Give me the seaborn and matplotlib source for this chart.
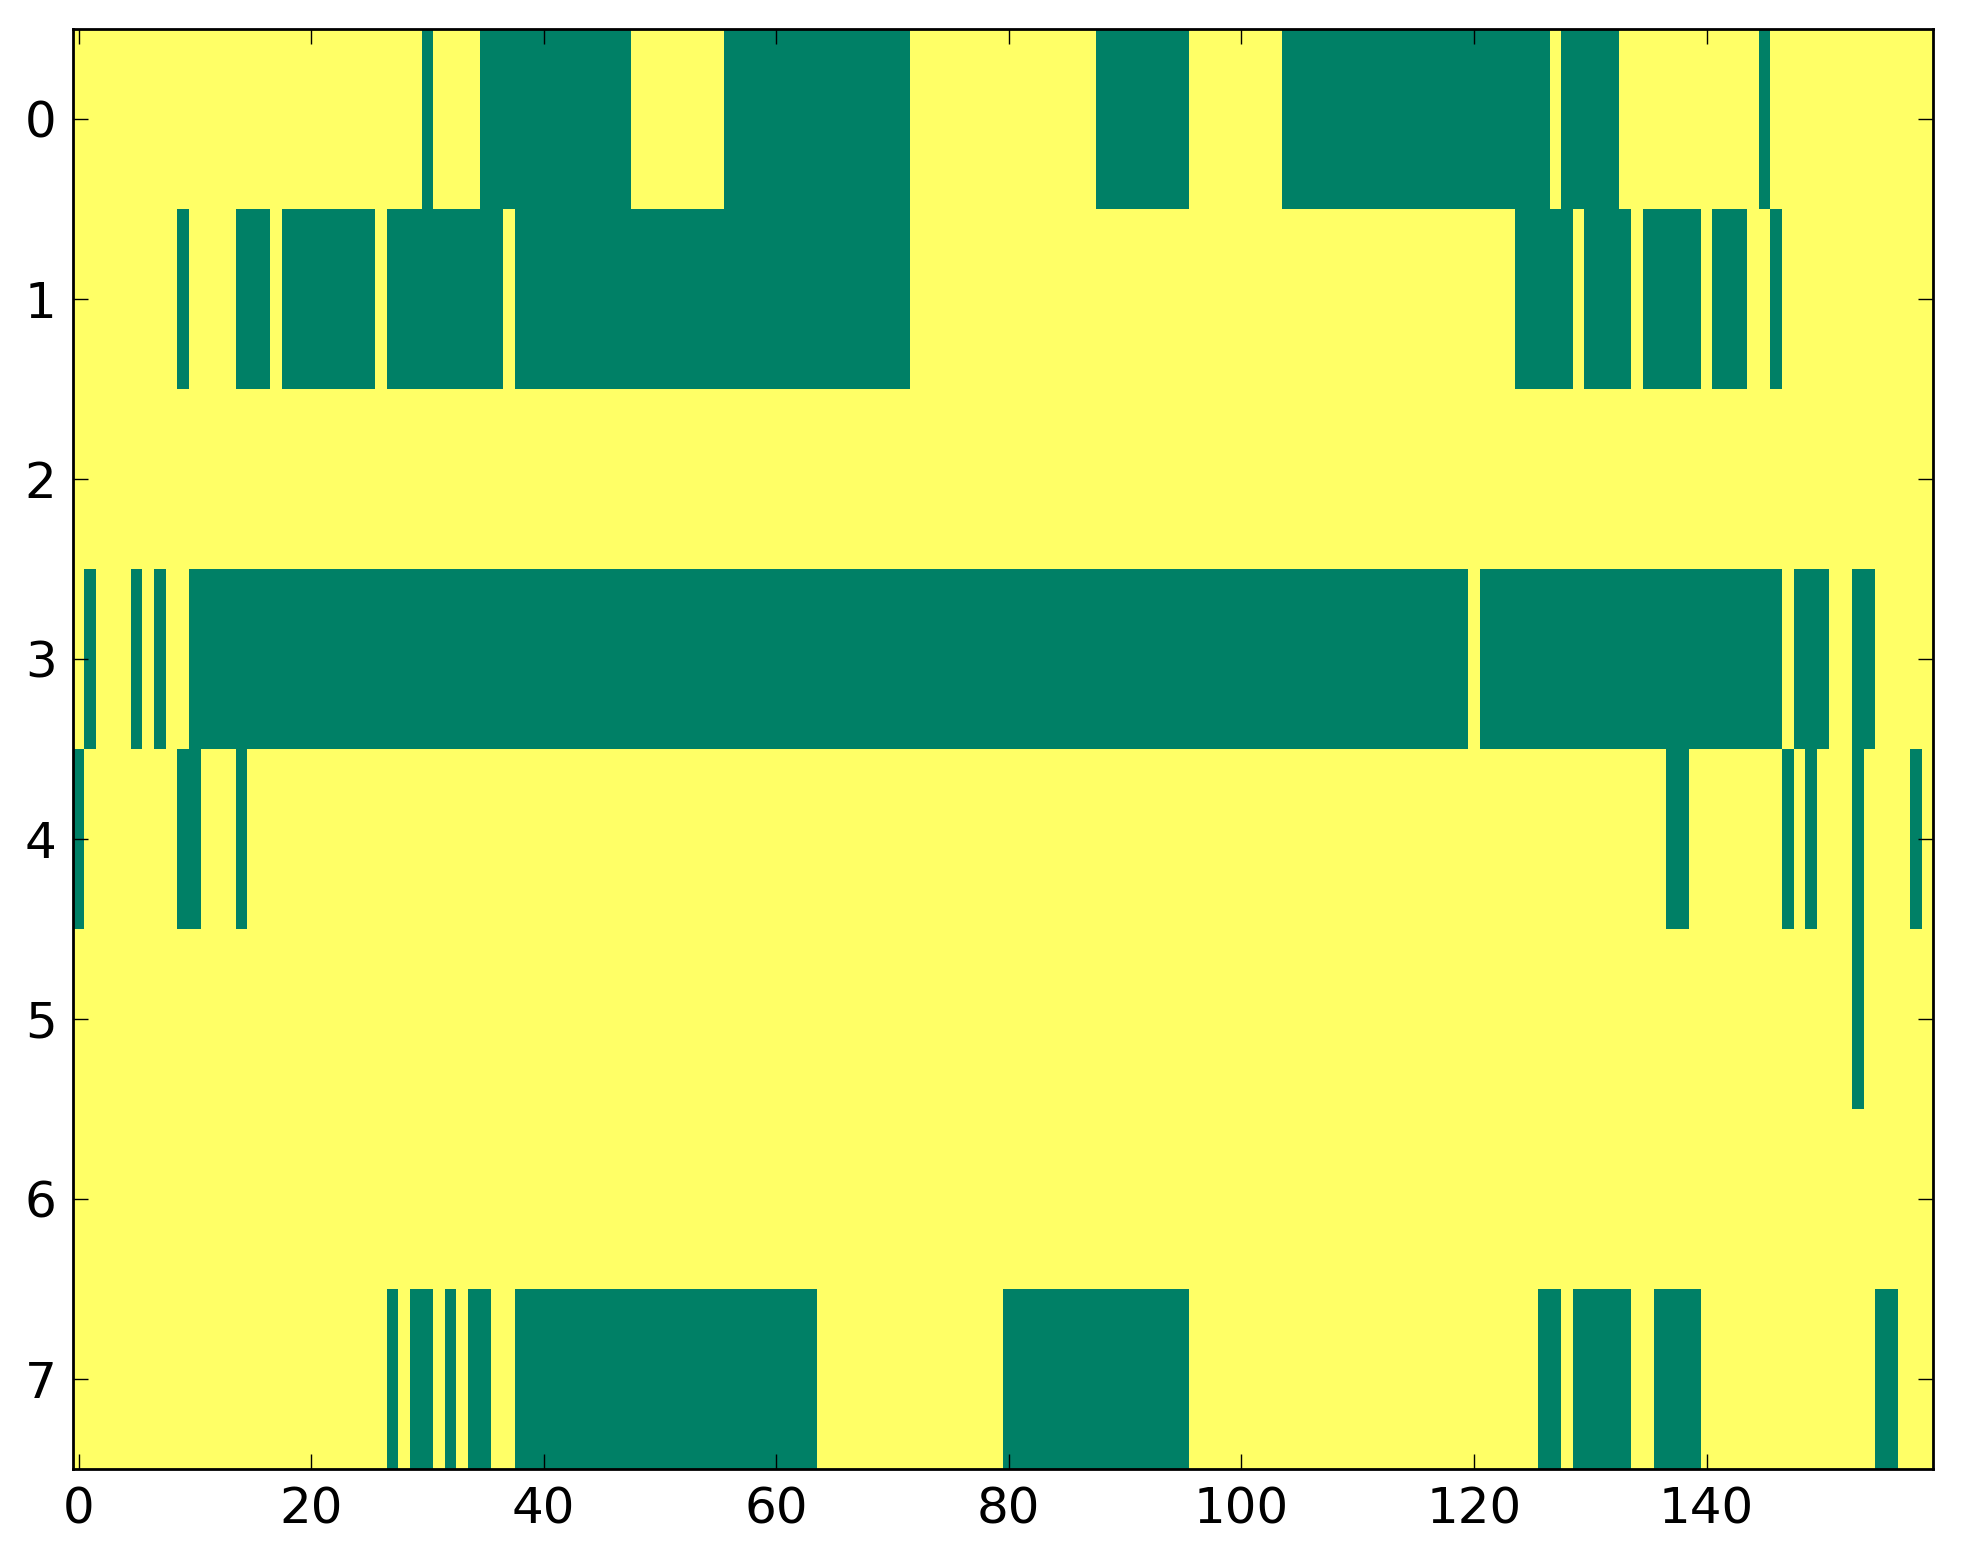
import numpy as np
import matplotlib
matplotlib.use("Agg")
import matplotlib.pyplot as plt
import seaborn as sns

# ---- data: green (value 0) runs per row, inclusive column ranges; rest is yellow (value 1)
n_cols = 160
row_labels = [0, 1, 2, 3, 4, 5, 6, 7]
x_tick_values = [0, 20, 40, 60, 80, 100, 120, 140]

row0_green = [(30, 30), (35, 47), (56, 71), (88, 95), (104, 126), (128, 132), (145, 145)]
row1_green = [(9, 9), (14, 16), (18, 25), (27, 36), (38, 71), (124, 128), (130, 133),
              (135, 139), (141, 143), (146, 146)]
row2_green = []
row3_green = [(1, 1), (5, 5), (7, 7), (10, 119), (121, 146), (148, 150), (153, 154)]
row4_green = [(0, 0), (9, 10), (14, 14), (137, 138), (147, 147), (149, 149), (153, 153), (158, 158)]
row5_green = [(153, 153)]
row6_green = []
row7_green = [(27, 27), (29, 30), (32, 32), (34, 35), (38, 63), (80, 95), (126, 127),
              (129, 133), (136, 139), (155, 156)]

all_rows = [row0_green, row1_green, row2_green, row3_green,
            row4_green, row5_green, row6_green, row7_green]

matrix = np.ones((len(row_labels), n_cols))
for r, runs in enumerate(all_rows):
    for a, b in runs:
        matrix[r, a:b + 1] = 0

sns.set_style("white")
plt.rcParams["font.family"] = ["DejaVu Sans"]
plt.rcParams["axes.axisbelow"] = False

W, H, DPI = 1963, 1564, 200
fig = plt.figure(figsize=(W / DPI, H / DPI), dpi=DPI)
left, right, top, bottom = 72.7, 1933.3, 29.0, 1469.0
ax = fig.add_axes([left / W, (H - bottom) / H, (right - left) / W, (bottom - top) / H])

sns.heatmap(matrix, cmap="summer", vmin=0, vmax=1, cbar=False, ax=ax,
            xticklabels=False, yticklabels=False, linewidths=0)

ax.set_axisbelow(False)
ax.set_xticks(np.array(x_tick_values) + 0.5)
ax.set_xticklabels([str(v) for v in x_tick_values], rotation=0)
ax.set_yticks(np.array(row_labels) + 0.5)
ax.set_yticklabels([str(v) for v in row_labels], rotation=0)
ax.tick_params(direction="in", top=True, right=True, bottom=True, left=True,
               length=5.4, width=0.5, labelsize=18, pad=5.8, color="black",
               labelcolor="black")
for s in ax.spines.values():
    s.set_visible(True)
    s.set_linewidth(1.0)
    s.set_color("black")
    s.set_zorder(3)

fig.savefig("out.png", dpi=DPI)
